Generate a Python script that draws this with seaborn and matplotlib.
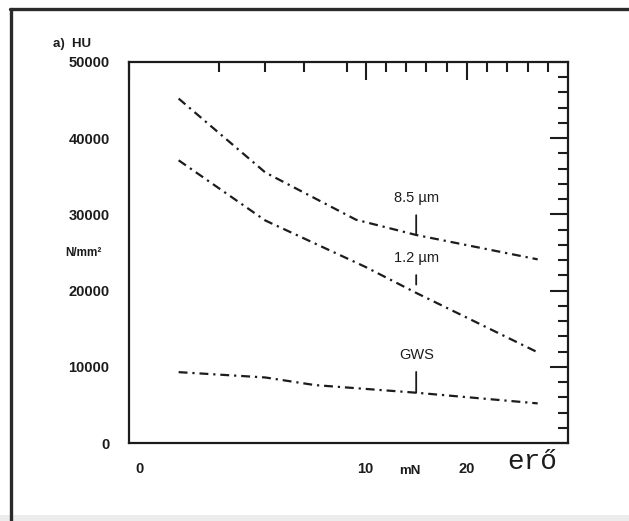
import matplotlib
matplotlib.use("Agg")
import matplotlib.pyplot as plt
import matplotlib.transforms as mtransforms
from matplotlib.lines import Line2D
from matplotlib.ticker import MultipleLocator, FixedLocator
import numpy as np
import seaborn as sns

# data (load in mN, universal hardness HU in N/mm^2)
force_85 = [1.1, 4, 9, 15, 27]
hu_85 = [45200, 35500, 29300, 27300, 24100]
force_12 = [1.1, 4, 10, 15, 27]
hu_12 = [37100, 29200, 23100, 19700, 11900]
force_gws = [1.1, 4, 6.5, 15, 27]
hu_gws = [9300, 8600, 7600, 6600, 5200]

series_names = ["8.5 \u00b5m", "1.2 \u00b5m", "GWS"]
label_force = 15

x_major = [0, 10, 20]
x_major_labels = ["0", "10", "20"]
x_minor = [2, 4, 6, 8, 12, 14, 16, 18, 22, 24, 26, 28]

# the original load axis is compressed below 10 mN
scale_x = [0, 2, 4, 6, 8, 10, 30]
scale_pos = [0, 90, 136, 175, 217, 236, 438]


def fwd(v):
    return np.interp(v, scale_x, scale_pos)


def inv(p):
    return np.interp(p, scale_pos, scale_x)


sns.set_style("white")
plt.rcParams['font.family'] = ['Liberation Sans', 'DejaVu Sans']

ink = "#1c1c1c"
fig = plt.figure(figsize=(6.29, 5.21), dpi=100)
ax = fig.add_axes([0.2051, 0.1497, 0.698, 0.7313])
ax.set_xscale('function', functions=(fwd, inv))

dash = (0, (4, 2.2, 1, 2.2))
for fx, hy in [(force_85, hu_85), (force_12, hu_12), (force_gws, hu_gws)]:
    sns.lineplot(x=fx, y=hy, ax=ax, color=ink, lw=1.6, linestyle=dash)

ax.set_xlim(0, 30)
ax.set_ylim(0, 50000)

for s in ax.spines.values():
    s.set_visible(True)
    s.set_linewidth(1.6)
    s.set_color(ink)

ax.xaxis.set_major_locator(FixedLocator(x_major))
ax.set_xticklabels(x_major_labels)
ax.xaxis.set_minor_locator(FixedLocator(x_minor))
ax.yaxis.set_major_locator(MultipleLocator(10000))
ax.yaxis.set_minor_locator(MultipleLocator(2000))
ax.set_yticklabels([f"{int(v)}" for v in ax.get_yticks()])

ax.tick_params(which='both', direction='in', top=True, right=True,
               color=ink, width=1.5, labelcolor=ink, labelsize=10.5)
ax.tick_params(which='major', length=13)
ax.tick_params(which='minor', length=7.5)
ax.tick_params(axis='y', pad=14)
ax.tick_params(axis='x', pad=14)
for lab in ax.get_xticklabels() + ax.get_yticklabels():
    lab.set_fontweight('bold')

# shift the "0" label a bit right like the original
zero_lab = ax.get_xticklabels()[0]
zero_lab.set_transform(zero_lab.get_transform() +
                       mtransforms.ScaledTranslation(0.1, 0, fig.dpi_scale_trans))

ax.set_xlabel("")
ax.set_ylabel("")

# series labels with vertical pointer lines
all_f = [force_85, force_12, force_gws]
all_h = [hu_85, hu_12, hu_gws]
offsets = [37, 35, 38]
shrink_b = [0, 6, 0]
for name, fx, hy, off, sb in zip(series_names, all_f, all_h, offsets, shrink_b):
    yv = np.interp(label_force, fx, hy)
    ax.annotate(name, xy=(label_force, yv), xytext=(0, off), textcoords='offset pixels',
                ha='center', va='center', fontsize=10.5, color=ink,
                arrowprops=dict(arrowstyle='-', lw=1.3, color=ink,
                                shrinkA=5, shrinkB=sb))

# axis texts
tr = ax.get_xaxis_transform()
ax.text(14.4, -0.073, "mN", transform=tr, ha='center', va='center',
        fontsize=9.5, fontweight='bold', color=ink)
ax.text(26.5, -0.05, "er\u0151", transform=tr, ha='center', va='center',
        fontsize=20, family='Liberation Mono', color=ink)
ax.text(-0.062, 25000, "N/mm\u00b2", transform=ax.get_yaxis_transform(),
        ha='right', va='center', fontsize=8.5, fontweight='bold', color=ink)
fig.text(0.084, 0.9155, "a)  HU", ha='left', va='center', fontsize=9.5,
         fontweight='bold', color=ink)

# frame of the scanned page
fig.add_artist(Line2D([0.016, 1.0], [0.983, 0.983], transform=fig.transFigure,
                      color="#2a2a2a", lw=2.4))
fig.add_artist(Line2D([0.0175, 0.0175], [0.0, 0.983], transform=fig.transFigure,
                      color="#2a2a2a", lw=2.4))
fig.add_artist(plt.Rectangle((0, 0), 1, 0.012, transform=fig.transFigure,
                             color="#ececec", lw=0))

fig.savefig("out.png", dpi=100)
